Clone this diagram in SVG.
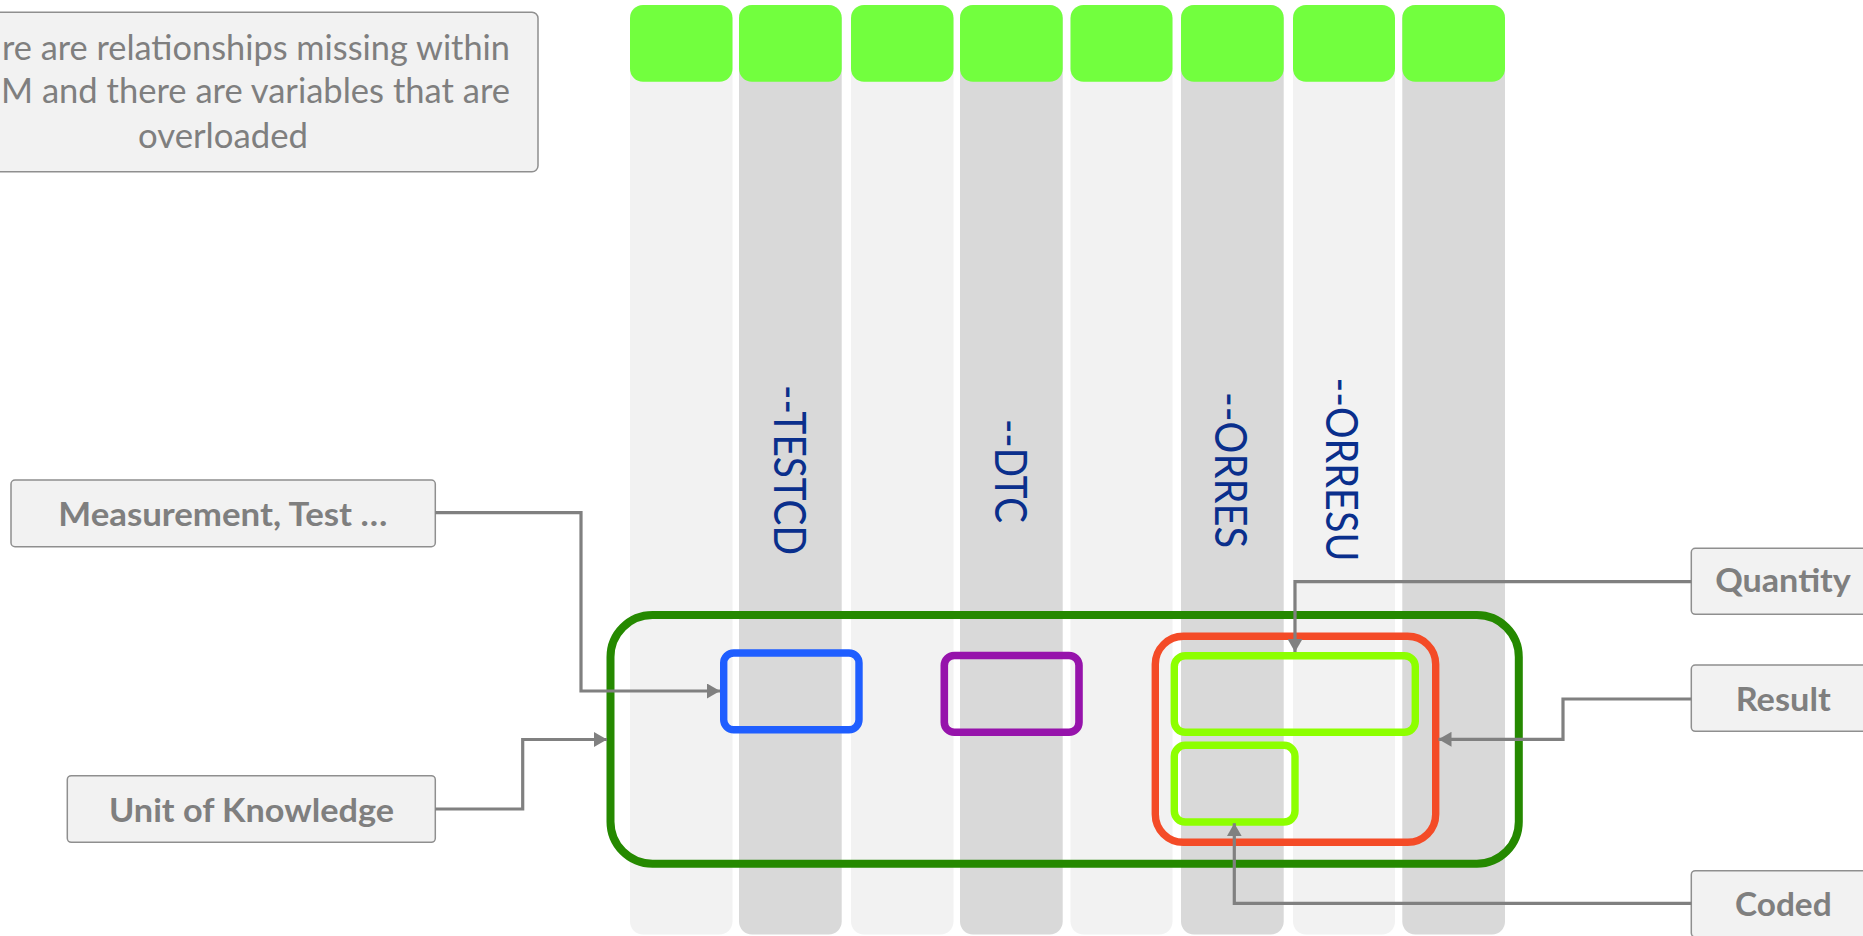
<svg xmlns="http://www.w3.org/2000/svg" width="1863" height="936" viewBox="0 0 1863 936">
  <style>
    .col-light { fill: #f2f2f2; }
    .col-dark { fill: #d9d9d9; }
    .cap { fill: #72ff3e; }
    .label-box { fill: #f2f2f2; stroke: #8f8f8f; stroke-width: 1.5; }
    .label { font-family: Lato, "Open Sans", sans-serif; font-weight: 700; font-size: 32px; fill: #7f7f7f; }
    .note { font-family: Lato, "Open Sans", sans-serif; font-size: 34px; fill: #7f7f7f; }
    .var { font-family: Lato, "Open Sans", sans-serif; font-size: 44px; fill: #0a2f8c; }
    .frame { fill: none; }
    .conn { fill: none; stroke: #808080; stroke-width: 3.2; stroke-linejoin: miter; }
  </style>
  <defs>
    <marker id="arrow" markerUnits="userSpaceOnUse" markerWidth="14" markerHeight="15" refX="13" refY="7.5" orient="auto">
      <path d="M0,0 L13,7.5 L0,15 z" fill="#808080"/>
    </marker>
  </defs>

  <!-- variable columns, each with a green header cap -->
  <g id="columns">
    <g id="col1"><rect class="col-light" x="630" y="5" width="102.5" height="929.5" rx="13"/><rect class="cap" x="630" y="5" width="102.5" height="76.7" rx="13"/></g>
    <g id="col2"><rect class="col-dark" x="739" y="5" width="102.7" height="929.5" rx="13"/><rect class="cap" x="739" y="5" width="102.7" height="76.7" rx="13"/></g>
    <g id="col3"><rect class="col-light" x="851" y="5" width="102.5" height="929.5" rx="13"/><rect class="cap" x="851" y="5" width="102.5" height="76.7" rx="13"/></g>
    <g id="col4"><rect class="col-dark" x="960" y="5" width="102.7" height="929.5" rx="13"/><rect class="cap" x="960" y="5" width="102.7" height="76.7" rx="13"/></g>
    <g id="col5"><rect class="col-light" x="1070.5" y="5" width="102" height="929.5" rx="13"/><rect class="cap" x="1070.5" y="5" width="102" height="76.7" rx="13"/></g>
    <g id="col6"><rect class="col-dark" x="1181" y="5" width="102.7" height="929.5" rx="13"/><rect class="cap" x="1181" y="5" width="102.7" height="76.7" rx="13"/></g>
    <g id="col7"><rect class="col-light" x="1293" y="5" width="102" height="929.5" rx="13"/><rect class="cap" x="1293" y="5" width="102" height="76.7" rx="13"/></g>
    <g id="col8"><rect class="col-dark" x="1402.3" y="5" width="102.7" height="929.5" rx="13"/><rect class="cap" x="1402.3" y="5" width="102.7" height="76.7" rx="13"/></g>
  </g>

  <!-- variable names, rotated to read downwards -->
  <g id="var-testcd"><text class="var" transform="translate(774,470) rotate(90)" text-anchor="middle" textLength="170" lengthAdjust="spacingAndGlyphs">--TESTCD</text></g>
  <g id="var-dtc"><text class="var" transform="translate(995,471) rotate(90)" text-anchor="middle" textLength="104" lengthAdjust="spacingAndGlyphs">--DTC</text></g>
  <g id="var-orres"><text class="var" transform="translate(1215,470) rotate(90)" text-anchor="middle" textLength="156" lengthAdjust="spacingAndGlyphs">--ORRES</text></g>
  <g id="var-orresu"><text class="var" transform="translate(1326,469.5) rotate(90)" text-anchor="middle" textLength="184" lengthAdjust="spacingAndGlyphs">--ORRESU</text></g>

  <!-- grouping frames -->
  <g id="unit-of-knowledge-frame"><rect class="frame" x="610.5" y="615" width="908.3" height="248.7" rx="42" stroke="#258900" stroke-width="8"/></g>
  <g id="testcd-frame"><rect class="frame" x="723.7" y="653" width="135.3" height="76.7" rx="10" stroke="#1f5eff" stroke-width="7.4"/></g>
  <g id="dtc-frame"><rect class="frame" x="944.3" y="655.5" width="134.7" height="76.8" rx="10" stroke="#9613ab" stroke-width="7.6"/></g>
  <g id="result-frame"><rect class="frame" x="1155.3" y="636.3" width="280.4" height="206" rx="28" stroke="#f44b27" stroke-width="7.4"/></g>
  <g id="quantity-frame"><rect class="frame" x="1174.3" y="655.7" width="241" height="76.6" rx="11" stroke="#8dff00" stroke-width="7.4"/></g>
  <g id="coded-frame"><rect class="frame" x="1174.3" y="745.3" width="120.7" height="76.7" rx="11" stroke="#8dff00" stroke-width="7.4"/></g>

  <!-- callout boxes -->
  <g id="note">
    <rect class="label-box" x="-92" y="12.3" width="630" height="159.4" rx="6"/>
    <text class="note" x="510" y="60" text-anchor="end" textLength="508" lengthAdjust="spacingAndGlyphs">re are relationships missing within</text>
    <text class="note" x="510" y="102.7" text-anchor="end" textLength="509" lengthAdjust="spacingAndGlyphs">M and there are variables that are</text>
    <text class="note" x="223" y="148.3" text-anchor="middle" textLength="170" lengthAdjust="spacingAndGlyphs">overloaded</text>
  </g>
  <g id="measurement">
    <rect class="label-box" x="11" y="480" width="424.3" height="66.7" rx="4"/>
    <text class="label" x="222.8" y="525.7" text-anchor="middle" textLength="329" lengthAdjust="spacingAndGlyphs">Measurement, Test …</text>
  </g>
  <g id="unit">
    <rect class="label-box" x="67.3" y="775.7" width="368" height="66.6" rx="4"/>
    <text class="label" x="251.5" y="821.7" text-anchor="middle" textLength="285" lengthAdjust="spacingAndGlyphs">Unit of Knowledge</text>
  </g>
  <g id="quantity">
    <rect class="label-box" x="1691.3" y="548.3" width="184" height="66" rx="4"/>
    <text class="label" x="1783" y="591.7" text-anchor="middle" textLength="135.7" lengthAdjust="spacingAndGlyphs">Quantity</text>
  </g>
  <g id="result">
    <rect class="label-box" x="1691.3" y="665" width="184" height="66.3" rx="4"/>
    <text class="label" x="1783.2" y="710.7" text-anchor="middle" textLength="95" lengthAdjust="spacingAndGlyphs">Result</text>
  </g>
  <g id="coded">
    <rect class="label-box" x="1691.3" y="870.7" width="184" height="66.3" rx="4"/>
    <text class="label" x="1783.3" y="915.7" text-anchor="middle" textLength="96.7" lengthAdjust="spacingAndGlyphs">Coded</text>
  </g>

  <!-- connectors -->
  <g id="connectors">
    <path class="conn" d="M435.3,512.7 H581 V691 H720" marker-end="url(#arrow)"/>
    <path class="conn" d="M435.3,809 H522.7 V739.5 H607" marker-end="url(#arrow)"/>
    <path class="conn" d="M1691.3,581.7 H1295 V652" marker-end="url(#arrow)"/>
    <path class="conn" d="M1691.3,699 H1563 V739.3 H1438.5" marker-end="url(#arrow)"/>
    <path class="conn" d="M1691.3,903.3 H1234.3 V823.3" marker-end="url(#arrow)"/>
  </g>
</svg>
